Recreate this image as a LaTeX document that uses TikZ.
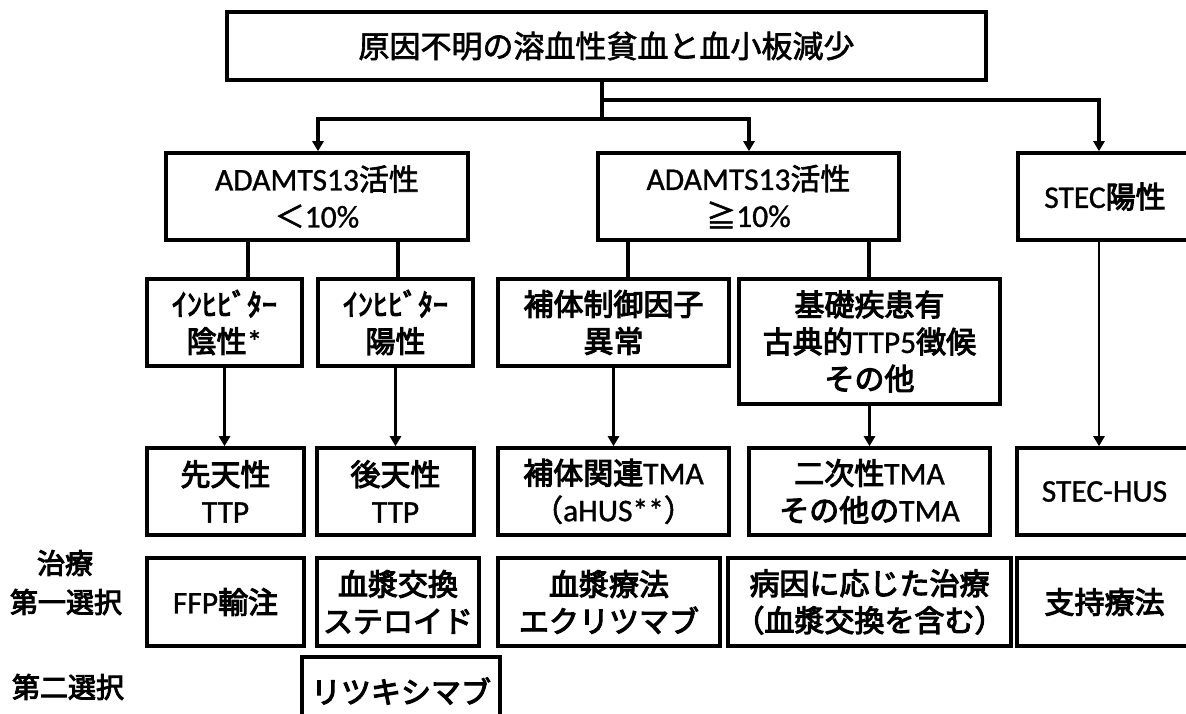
\documentclass[tikz,border=0pt]{standalone}
\usepackage{fontspec}
\setmainfont{Noto Sans CJK JP}
\newfontfamily\jb{Noto Sans CJK JP}[FakeBold=3.5]
\newfontfamily\jr{Noto Sans CJK JP}[FakeBold=2]
\newfontfamily\cl{Carlito}[FakeBold=1]
\newcommand\lat[1]{{\cl\fontsize{31.5}{37}\selectfont #1}}
\usetikzlibrary{arrows.meta}
\tikzset{
  boxb/.style={draw, line width=3.6pt, inner sep=0pt, align=center,
    font=\jb\fontsize{30}{37}\selectfont},
  boxr/.style={draw, line width=3.6pt, inner sep=0pt, align=center,
    font=\jr\fontsize{30}{37}\selectfont},
  conn/.style={line width=3.8pt},
  arr/.style={line width=3.2pt, -{Triangle[width=11pt,length=10pt]}},
  arrs/.style={line width=2.7pt, -{Triangle[width=11pt,length=10pt]}},
  lbl/.style={font=\jb\fontsize{28}{34}\selectfont},
}
\newcommand\bbox[7]{%
  \node[#1, minimum width={#5-#3}, minimum height={#6-#4}] (#2)
    at ({(#3+#5)/2},{(#4+#6)/2}) {#7};}
\begin{document}
\begin{tikzpicture}[x=1pt,y=-1pt]
\useasboundingbox (0,0) rectangle (1186,713);
\fill[white] (0,0) rectangle (1186,713);
\clip (0,0) rectangle (1186,713);

% row 0
\bbox{boxr}{top}{227}{12}{986}{80}{\fontsize{31}{37}\selectfont 原因不明の溶血性貧血と血小板減少}
% row 1
\bbox{boxr}{nA}{166}{153}{468}{240}{\lat{ADAMTS13}活性\\＜\lat{10\%}}
\bbox{boxr}{nB}{598}{153}{899}{240}{\lat{ADAMTS13}活性\\≧\lat{10\%}}
\bbox{boxb}{nC}{1018}{153}{1192}{240}{\lat{STEC}陽性}
% row 2
\bbox{boxb}{n2a}{147}{279}{302}{366}{ｲﾝﾋﾋﾞﾀｰ\\陰性\lat{*}}
\bbox{boxb}{n2b}{318}{279}{473}{366}{ｲﾝﾋﾋﾞﾀｰ\\陽性}
\bbox{boxb}{n2c}{498}{279}{729}{366}{補体制御因子\\異常}
\bbox{boxb}{n2d}{739}{279}{1000}{404}{基礎疾患有\\古典的\lat{TTP5}徴候\\その他}
% row 3
\bbox{boxb}{n3a}{147}{448}{304}{535}{先天性\\\lat{TTP}}
\bbox{boxb}{n3b}{317}{448}{474}{535}{後天性\\\lat{TTP}}
\bbox{boxb}{n3c}{498}{448}{729}{535}{補体関連\lat{TMA}\\{\jr（}\lat{aHUS**}{\jr）}}
\bbox{boxb}{n3d}{749}{448}{990}{535}{二次性\lat{TMA}\\その他の\lat{TMA}}
\bbox{boxb}{n3e}{1017}{448}{1192}{535}{\lat{STEC-HUS}}
% row 4
\bbox{boxb}{n4a}{147}{558}{304}{646}{\lat{FFP}輸注}
\bbox{boxb}{n4b}{317}{558}{479}{646}{血漿交換\\ステロイド}
\bbox{boxb}{n4c}{498}{558}{720}{646}{血漿療法\\エクリツマブ}
\bbox{boxb}{n4d}{728}{558}{1011}{646}{病因に応じた治療\\（血漿交換を含む）}
\bbox{boxb}{n4e}{1017}{558}{1192}{646}{支持療法}
% row 5
\bbox{boxb}{n5}{302}{657}{500}{725}{リツキシマブ}

% side labels
\node[lbl] (l1) at (65,563) {治療};
\node[lbl] (l2) at (66,602) {第一選択};
\node[lbl] (l3) at (68,687) {第二選択};

% connector coordinates
\coordinate (s1) at (602,119);
\coordinate (s2) at (602,100);
\coordinate (cA) at (318,0);
\coordinate (cB) at (749,0);
\coordinate (cC) at (1099,0);
\coordinate (dA1) at (248,0);
\coordinate (dA2) at (398,0);
\coordinate (dB1) at (628,0);
\coordinate (dB2) at (869,0);

% top connectors
\draw[conn] (top.south -| s1) -- (s1);
\draw[arr] (s1) -| (nA.north -| cA);
\draw[arr] (s1) -| (nB.north -| cB);
\draw[arr] (s2) -| (nC.north -| cC);

% row1 -> row2
\draw[conn] (nA.south -| dA1) -- (n2a.north -| dA1);
\draw[conn] (nA.south -| dA2) -- (n2b.north -| dA2);
\draw[conn] (nB.south -| dB1) -- (n2c.north -| dB1);
\draw[conn] (nB.south -| dB2) -- (n2d.north -| dB2);

% row2 -> row3
\draw[arrs] (n2a.south) -- (n3a.north -| n2a.south);
\draw[arrs] (n2b.south) -- (n3b.north -| n2b.south);
\draw[arrs] (n2c.south) -- (n3c.north -| n2c.south);
\draw[arrs] (n2d.south) -- (n3d.north -| n2d.south);
\draw[arrs] (nC.south -| cC) -- (n3e.north -| cC);
\end{tikzpicture}
\end{document}
